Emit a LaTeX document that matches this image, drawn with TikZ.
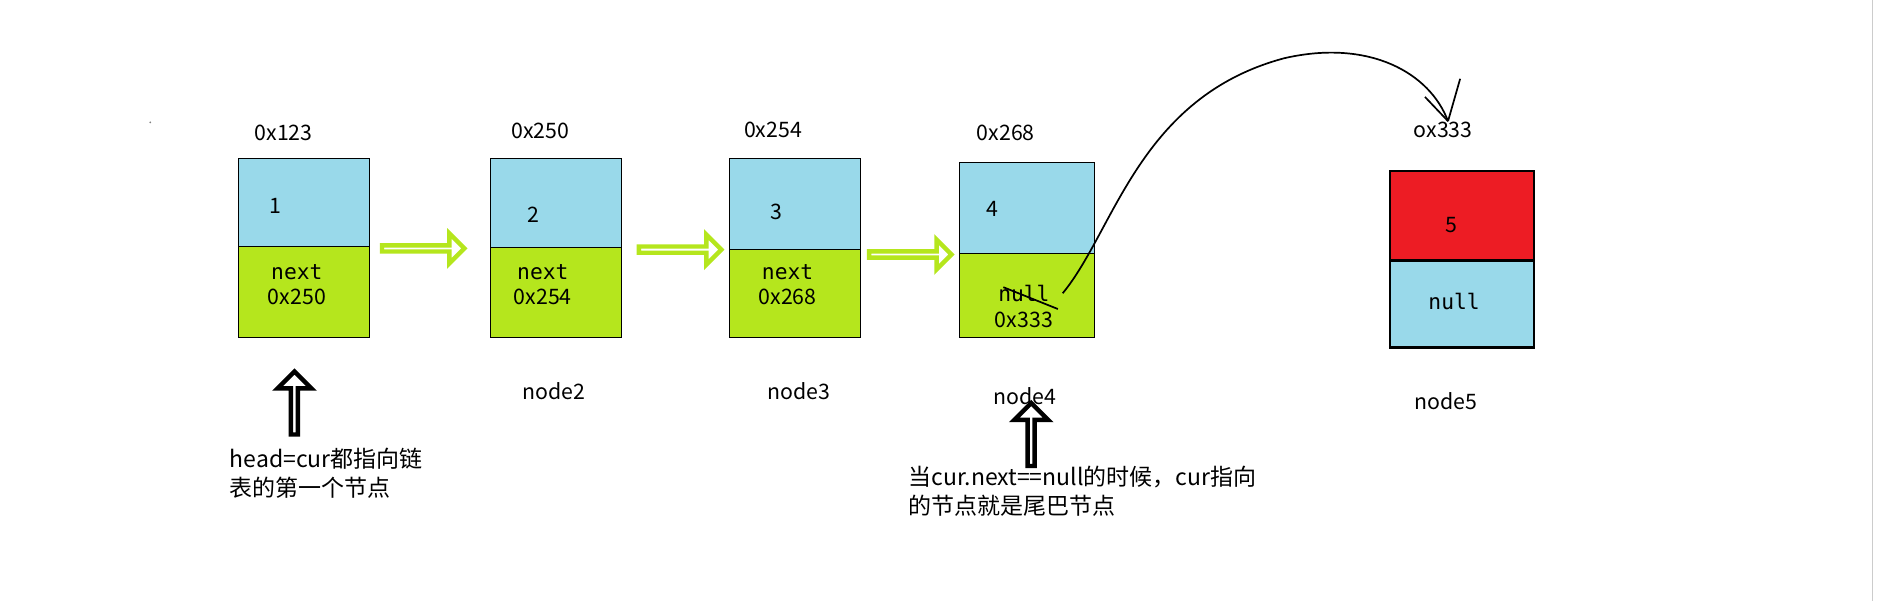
\documentclass[tikz,border=0pt]{standalone}
\usepackage{fontspec}
\setmainfont{Noto Sans CJK SC}
\newfontfamily\monofont{DejaVu Sans Mono}
\usetikzlibrary{shapes.arrows}
\definecolor{cellblue}{RGB}{153,217,234}
\definecolor{cellgreen}{RGB}{181,230,29}
\definecolor{cellred}{RGB}{237,28,36}
\begin{document}
\begin{tikzpicture}[x=0.025cm,y=-0.025cm,
    txt/.style={font=\fontsize{12.5}{15}\selectfont, inner sep=1pt},
    fat/.style={single arrow, draw=cellgreen, line width=2.6pt, fill=white,
      minimum height=1.7cm, single arrow head extend=5pt, minimum width=0.62cm, inner sep=0pt},
    up/.style={single arrow, draw=black, line width=2.6pt, fill=white, shape border rotate=90,
      minimum height=1.3cm, single arrow head extend=5pt, minimum width=0.7cm, inner sep=0pt}]
\useasboundingbox (0,0) rectangle (1568,496);
\draw[gray!40] (1545,0) -- (1545,496);
\fill[gray] (124,101) circle (0.8);
% cells
\filldraw[fill=cellblue] (197,131) rectangle (305,203);
\filldraw[fill=cellgreen] (197,203) rectangle (305,278);
\filldraw[fill=cellblue] (405,131) rectangle (513,204);
\filldraw[fill=cellgreen] (405,204) rectangle (513,278);
\filldraw[fill=cellblue] (602,131) rectangle (710,206);
\filldraw[fill=cellgreen] (602,206) rectangle (710,278);
\filldraw[fill=cellblue] (792,134) rectangle (903,209);
\filldraw[fill=cellgreen] (792,209) rectangle (903,278);
\filldraw[line width=1.5pt, fill=cellred] (1147,141) rectangle (1266,215);
\filldraw[line width=1.5pt, fill=cellblue] (1147,215) rectangle (1266,287);
% cell texts
\node[txt] (v1) at (227,170) {1};
\node[txt] (v2) at (440,177) {2};
\node[txt] (v3) at (641,175) {3};
\node[txt] (v4) at (819,172) {4};
\node[txt] (v5) at (1198,186) {5};
\node[txt, align=center] (n1) at (245,235) {{\monofont next}\\0x250};
\node[txt, align=center] (n2) at (448,235) {{\monofont next}\\0x254};
\node[txt, align=center] (n3) at (650,235) {{\monofont next}\\0x268};
\node[txt, align=center] (n4) at (845,253) {{\monofont null}\\0x333};
\node[txt] (n5) at (1200,249) {{\monofont null}};
% addresses
\node[txt] (a1) at (234,110) {0x123};
\node[txt] (a2) at (446,108) {0x250};
\node[txt] (a3) at (638,107) {0x254};
\node[txt] (a4) at (830,110) {0x268};
\node[txt] (a5) at (1191,107) {ox333};
% names
\node[txt] (l2) at (457,323) {node2};
\node[txt] (l3) at (659,323) {node3};
\node[txt] (l4) at (846,327) {node4};
\node[txt] (l5) at (1193,331) {node5};
% arrows
\node[fat] (f1) at (348,205) {};
\node[fat] (f2) at (560,206) {};
\node[fat] (f3) at (750,210) {};
\node[up] (u1) at (243,334) {};
\node[up] (u2) at (851,360) {};
\node[txt, font=\fontsize{13.5}{17}\selectfont, anchor=north west, align=left] (c1) at (188,368) {head=cur都指向链\\表的第一个节点};
\node[txt, font=\fontsize{13.5}{17}\selectfont, anchor=north west, align=left] (c2) at (748,383) {当cur.next==null的时候，cur指向\\的节点就是尾巴节点};
% freehand
\coordinate (s) at (877,242);
\coordinate (t) at (1195,100);
\draw[line width=1pt] (s) .. controls (920,190) and (940,80) .. (1060,48) .. controls (1130,32) and (1180,60) .. (t);
\draw[line width=1pt] (t) -- (1205,65);
\draw[line width=1pt] (t) -- (1176,80);
\draw[line width=1pt] (828,237) -- (873,255);
\end{tikzpicture}
\end{document}
